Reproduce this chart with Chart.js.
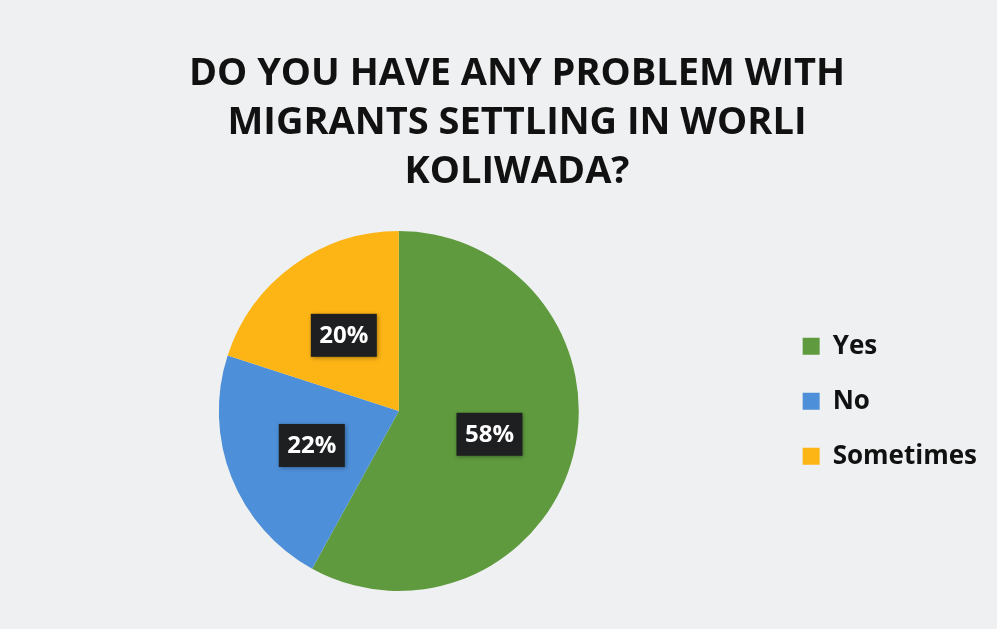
<!DOCTYPE html>
<html>
<head>
<meta charset="utf-8">
<script src="https://cdn.jsdelivr.net/npm/chart.js@4.4.1/dist/chart.umd.min.js"></script>
<style>
  html, body { margin: 0; padding: 0; background: #eef0f2; }
  #wrap { width: 997px; height: 629px; position: relative; }
</style>
</head>
<body>
<div id="wrap"><canvas id="myChart"></canvas></div>
<script>
// data
const titleLines = ['DO YOU HAVE ANY PROBLEM WITH', 'MIGRANTS SETTLING IN WORLI', 'KOLIWADA?'];
const answers = ['Yes', 'No', 'Sometimes'];
const shares = [58, 22, 20];
const sliceColors = ['#5f9b3e', '#4d8fd8', '#fdb515'];

// dark boxes with the percentage inside each slice
const pctLabels = {
    id: 'pctLabels',
    afterDatasetsDraw(chart) {
        const ctx = chart.ctx;
        const meta = chart.getDatasetMeta(0);
        ctx.save();
        ctx.font = 'bold 24px "Open Sans"';
        ctx.textAlign = 'center';
        ctx.textBaseline = 'middle';
        meta.data.forEach((arc, i) => {
            const p = arc.getProps(['x', 'y', 'startAngle', 'endAngle', 'outerRadius'], true);
            const mid = (p.startAngle + p.endAngle) / 2;
            const r = p.outerRadius * 0.52;
            const x = p.x + Math.cos(mid) * r;
            const y = p.y + Math.sin(mid) * r;
            const w = 66, h = 43;
            ctx.shadowColor = 'rgba(0,0,0,0.35)';
            ctx.shadowBlur = 4;
            ctx.shadowOffsetX = 1;
            ctx.shadowOffsetY = 1;
            ctx.fillStyle = '#1e1f21';
            ctx.fillRect(x - w / 2, y - h / 2, w, h);
            ctx.shadowColor = 'transparent';
            ctx.fillStyle = '#ffffff';
            ctx.fillText(shares[i] + '%', x, y + 1);
        });
        ctx.restore();
    }
};

// empty gap between the pie area and the legend
const legendGap = {
    id: 'legendGap',
    beforeInit(chart) {
        Chart.layouts.addBox(chart, {
            position: 'right',
            weight: 500,
            fullSize: false,
            options: {},
            left: 0, top: 0, right: 0, bottom: 0,
            width: 23,
            height: 0,
            isHorizontal() { return false; },
            update(maxWidth, maxHeight) { this.width = 23; this.height = maxHeight; },
            draw() {}
        });
    }
};

const ctx = document.getElementById('myChart').getContext('2d');
const myChart = new Chart(ctx, {
    type: 'pie',
    data: {
        labels: answers,
        datasets: [{
            data: shares,
            backgroundColor: sliceColors,
            borderWidth: 0
        }]
    },
    options: {
        responsive: true,
        maintainAspectRatio: false,
        animation: false,
        layout: { padding: { left: 47, right: 10, top: 0, bottom: 38 } },
        plugins: {
            title: {
                display: true,
                text: titleLines,
                color: '#111111',
                font: { family: '"Open Sans"', size: 38, weight: 'bold', lineHeight: 1.29 },
                padding: { top: 50, bottom: 34 }
            },
            legend: {
                position: 'right',
                align: 'start',
                fullSize: false,
                title: { display: true, text: ' ', font: { size: 1 }, padding: { top: 36, bottom: 36 } },
                labels: {
                    color: '#111111',
                    font: { family: '"Open Sans"', size: 26, weight: 'bold' },
                    boxWidth: 17,
                    boxHeight: 17,
                    padding: 29
                }
            },
            tooltip: { enabled: false }
        }
    },
    plugins: [pctLabels, legendGap]
});
</script>
</body>
</html>
